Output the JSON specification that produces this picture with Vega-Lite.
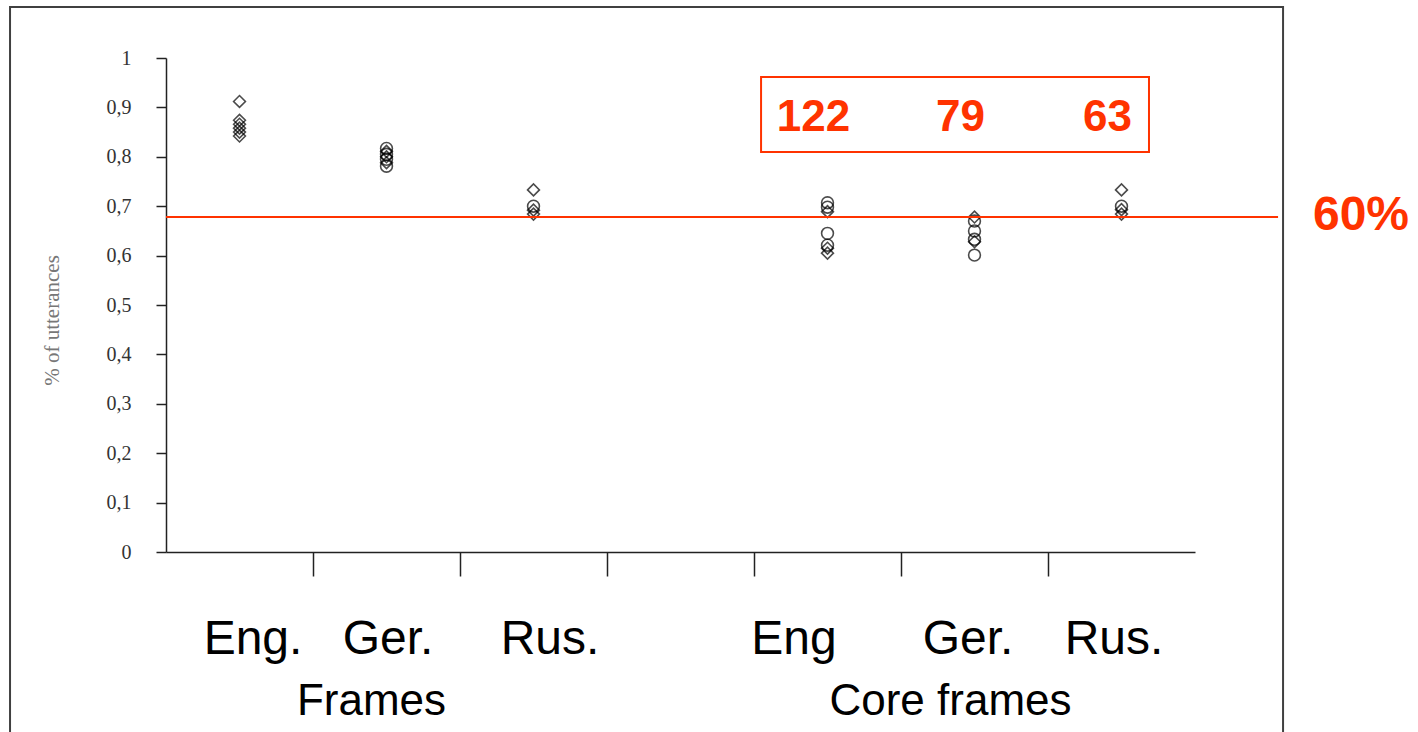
{
  "$schema": "https://vega.github.io/schema/vega-lite/v6.json",
  "width": 1029,
  "height": 494,
  "autosize": "none",
  "padding": {"left": 166, "top": 58, "right": 223, "bottom": 180},
  "background": "white",
  "config": {"view": {"stroke": null}},
  "layer": [
    {
      "layer": [
        {
          "data": {"values": [
            {"cat": "F-Eng", "value": 0.912, "series": "d"},
            {"cat": "F-Eng", "value": 0.874, "series": "d"},
            {"cat": "F-Eng", "value": 0.866, "series": "d"},
            {"cat": "F-Eng", "value": 0.858, "series": "d"},
            {"cat": "F-Eng", "value": 0.850, "series": "d"},
            {"cat": "F-Eng", "value": 0.842, "series": "d"},
            {"cat": "F-Ger", "value": 0.817, "series": "c"},
            {"cat": "F-Ger", "value": 0.811, "series": "d"},
            {"cat": "F-Ger", "value": 0.805, "series": "c"},
            {"cat": "F-Ger", "value": 0.800, "series": "d"},
            {"cat": "F-Ger", "value": 0.795, "series": "c"},
            {"cat": "F-Ger", "value": 0.788, "series": "d"},
            {"cat": "F-Ger", "value": 0.781, "series": "c"},
            {"cat": "F-Rus", "value": 0.733, "series": "d"},
            {"cat": "F-Rus", "value": 0.700, "series": "c"},
            {"cat": "F-Rus", "value": 0.692, "series": "d"},
            {"cat": "F-Rus", "value": 0.684, "series": "d"},
            {"cat": "C-Eng", "value": 0.707, "series": "c"},
            {"cat": "C-Eng", "value": 0.698, "series": "c"},
            {"cat": "C-Eng", "value": 0.689, "series": "d"},
            {"cat": "C-Eng", "value": 0.645, "series": "c"},
            {"cat": "C-Eng", "value": 0.621, "series": "c"},
            {"cat": "C-Eng", "value": 0.615, "series": "d"},
            {"cat": "C-Eng", "value": 0.605, "series": "d"},
            {"cat": "C-Ger", "value": 0.678, "series": "d"},
            {"cat": "C-Ger", "value": 0.670, "series": "c"},
            {"cat": "C-Ger", "value": 0.650, "series": "c"},
            {"cat": "C-Ger", "value": 0.633, "series": "c"},
            {"cat": "C-Ger", "value": 0.628, "series": "d"},
            {"cat": "C-Ger", "value": 0.601, "series": "c"},
            {"cat": "C-Rus", "value": 0.733, "series": "d"},
            {"cat": "C-Rus", "value": 0.700, "series": "c"},
            {"cat": "C-Rus", "value": 0.693, "series": "d"},
            {"cat": "C-Rus", "value": 0.684, "series": "d"}
          ]},
          "mark": {"type": "point", "filled": false, "color": "black", "size": 140, "strokeWidth": 1.6},
          "encoding": {
            "x": {
              "field": "cat", "type": "nominal",
              "scale": {"type": "band", "domain": ["F-Eng", "F-Ger", "F-Rus", "gap", "C-Eng", "C-Ger", "C-Rus"], "paddingInner": 0, "paddingOuter": 0},
              "axis": {
                "title": null,
                "bandPosition": 0,
                "grid": false,
                "labelExpr": "datum.value=='F-Eng'?'Eng.':datum.value=='F-Ger'?'Ger.':datum.value=='F-Rus'?'Rus.':datum.value=='C-Eng'?'Eng':datum.value=='C-Ger'?'Ger.':datum.value=='C-Rus'?'Rus.':''",
                "labelFont": "Liberation Sans",
                "labelFontSize": 48,
                "labelColor": "black",
                "labelAngle": 0,
                "labelAlign": "center",
                "labelBaseline": "top",
                "labelPadding": 39,
                "labelOverlap": false,
                "labelBound": false,
                "labelFlush": false,
                "labelOffset": {"expr": "datum.value=='F-Eng'?13.5:datum.value=='F-Ger'?1.5:datum.value=='F-Rus'?16.5:datum.value=='C-Eng'?-33.5:datum.value=='C-Ger'?-6.5:datum.value=='C-Rus'?-7.5:0"},
                "tickSize": 24,
                "tickColor": "#222222",
                "tickWidth": 1.5,
                "tickOpacity": {"condition": {"test": "datum.value=='F-Eng'", "value": 0}, "value": 1},
                "domainColor": "#222222",
                "domainWidth": 1.5
              }
            },
            "y": {
              "field": "value", "type": "quantitative",
              "scale": {"domain": [0, 1], "nice": false},
              "axis": {
                "title": "% of utterances",
                "values": [0, 0.1, 0.2, 0.3, 0.4, 0.5, 0.6, 0.7, 0.8, 0.9, 1],
                "labelExpr": "replace(format(datum.value, '.1~f'), '.', ',')",
                "labelFont": "Liberation Serif",
                "labelFontSize": 20,
                "labelColor": "#333333",
                "labelPadding": 25,
                "tickSize": 10,
                "tickColor": "#222222",
                "tickWidth": 1.5,
                "domainColor": "#222222",
                "domainWidth": 1.5,
                "grid": false,
                "titleFont": "Liberation Serif",
                "titleFontSize": 21,
                "titleFontWeight": "normal",
                "titleColor": "#777777",
                "titleAngle": -90,
                "titleAlign": "center",
                "titleBaseline": "middle",
                "titleX": -114,
                "titleY": 262
              }
            },
            "shape": {"field": "series", "type": "nominal", "scale": {"domain": ["d", "c"], "range": ["diamond", "circle"]}, "legend": null}
          }
        },
        {
          "data": {"values": [
            {"cat": "C-Eng", "n": 122},
            {"cat": "C-Ger", "n": 79},
            {"cat": "C-Rus", "n": 63}
          ]},
          "mark": {"type": "text", "font": "Liberation Sans", "fontSize": 44, "fontWeight": "bold", "color": "#ff3300", "baseline": "alphabetic", "align": "center", "dx": -14},
          "encoding": {
            "x": {"field": "cat", "type": "nominal"},
            "y": {"datum": 0.852, "type": "quantitative"},
            "text": {"field": "n", "type": "quantitative"}
          }
        },
        {
          "data": {"values": [{}]},
          "mark": {"type": "text", "font": "Liberation Sans", "fontSize": 44, "color": "black", "baseline": "alphabetic", "align": "center", "dx": -15, "text": "Frames"},
          "encoding": {
            "x": {"datum": "F-Ger", "type": "nominal"},
            "y": {"datum": -0.33, "type": "quantitative"}
          }
        },
        {
          "data": {"values": [{}]},
          "mark": {"type": "text", "font": "Liberation Sans", "fontSize": 44, "color": "black", "baseline": "alphabetic", "align": "center", "dx": -24, "text": "Core frames"},
          "encoding": {
            "x": {"datum": "C-Ger", "type": "nominal"},
            "y": {"datum": -0.33, "type": "quantitative"}
          }
        }
      ]
    },
    {
      "data": {"values": [{}]},
      "layer": [
        {
          "mark": {"type": "rect", "fill": null, "stroke": "#404040", "strokeWidth": 2},
          "encoding": {
            "x": {"datum": -1.061, "type": "quantitative", "scale": {"domain": [0, 7], "nice": false, "zero": false}, "axis": null},
            "x2": {"datum": 7.599},
            "y": {"datum": 1.103, "type": "quantitative"},
            "y2": {"datum": -0.42}
          }
        },
        {
          "mark": {"type": "rule", "color": "#ff3300", "strokeWidth": 2},
          "encoding": {
            "x": {"datum": 0, "type": "quantitative", "scale": {"domain": [0, 7], "nice": false, "zero": false}, "axis": null},
            "x2": {"datum": 7.565},
            "y": {"datum": 0.678, "type": "quantitative"}
          }
        },
        {
          "mark": {"type": "rect", "fill": null, "stroke": "#ff3300", "strokeWidth": 2},
          "encoding": {
            "x": {"datum": 4.048, "type": "quantitative", "scale": {"domain": [0, 7], "nice": false, "zero": false}, "axis": null},
            "x2": {"datum": 6.687},
            "y": {"datum": 0.9615, "type": "quantitative"},
            "y2": {"datum": 0.8097}
          }
        },
        {
          "mark": {"type": "text", "font": "Liberation Sans", "fontSize": 48, "fontWeight": "bold", "color": "#ff3300", "baseline": "alphabetic", "align": "center", "text": "60%"},
          "encoding": {
            "x": {"datum": 8.129, "type": "quantitative", "scale": {"domain": [0, 7], "nice": false, "zero": false}, "axis": null},
            "y": {"datum": 0.652, "type": "quantitative"}
          }
        }
      ]
    }
  ],
  "resolve": {"scale": {"x": "independent"}, "axis": {"x": "independent"}}
}
